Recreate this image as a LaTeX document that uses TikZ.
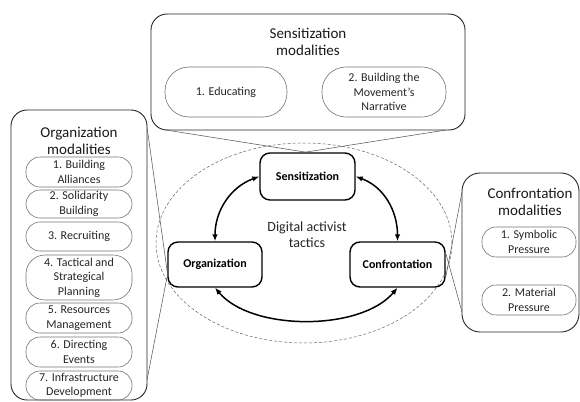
\documentclass[tikz,border=0pt]{standalone}
\usepackage{fontspec}
\setmainfont{Carlito}
\usetikzlibrary{arrows.meta,shapes.geometric}
\tikzset{
  bigbox/.style={draw=black!85, line width=0.9pt, rounded corners=16pt, inner sep=0pt},
  pill/.style={draw=black!55, line width=0.6pt, rounded corners=14pt, inner sep=0pt, align=center, text=black!85, font=\fontsize{12}{14.5}\selectfont},
  bigpill/.style={pill, rounded corners=24pt},
  tactic/.style={draw=black, line width=1.4pt, rounded corners=10pt, inner sep=0pt, font=\bfseries\fontsize{12}{14}\selectfont},
  ttl/.style={align=center, inner sep=0pt, text=black!90, font=\fontsize{15}{17.5}\selectfont},
  link/.style={draw=black!65, line width=0.55pt},
  bi/.style={line width=1.5pt, {Latex[length=7pt,width=5.5pt]}-{Latex[length=7pt,width=5.5pt]}},
}
\begin{document}
\begin{tikzpicture}[x=1pt,y=1pt]
\useasboundingbox (0,0) rectangle (580,-401);
% scope ellipse
\node[draw=black!60, dash pattern=on 3pt off 2pt, line width=0.5pt, ellipse, minimum width=296pt, minimum height=200pt, inner sep=0pt] (scope) at (304,-243) {};
% big boxes
\node[bigbox, minimum width=314pt, minimum height=116pt] (topbox) at (308,-72) {};
\node[bigbox, minimum width=136pt, minimum height=290pt] (leftbox) at (79,-255) {};
\node[bigbox, minimum width=117pt, minimum height=159pt, rounded corners=18pt] (rightbox) at (520.5,-252.5) {};
% titles
\node[ttl] (toptitle) at (308,-42) {Sensitization\\modalities};
\node[ttl] (lefttitle) at (79,-141) {Organization\\modalities};
\node[ttl] (righttitle) at (530,-202) {Confrontation\\modalities};
% top pills
\node[bigpill, minimum width=122pt, minimum height=50pt] (s1) at (226,-92) {1. Educating};
\node[bigpill, minimum width=124pt, minimum height=50pt] (s2) at (384,-92) {2. Building the\\Movement's\\Narrative};
% left pills
\node[pill, minimum width=106pt, minimum height=30pt] (o1) at (79,-172) {1. Building\\Alliances};
\node[pill, minimum width=106pt, minimum height=28pt] (o2) at (79,-204) {2. Solidarity\\Building};
\node[pill, minimum width=106pt, minimum height=29pt] (o3) at (79,-236.5) {3. Recruiting};
\node[pill, minimum width=106pt, minimum height=45pt, rounded corners=19pt] (o4) at (79,-277.5) {4. Tactical and\\Strategical\\Planning};
\node[pill, minimum width=106pt, minimum height=30pt] (o5) at (79,-318) {5. Resources\\Management};
\node[pill, minimum width=106pt, minimum height=30pt] (o6) at (79,-352) {6. Directing\\Events};
\node[pill, minimum width=106pt, minimum height=29pt] (o7) at (79,-385.5) {7. Infrastructure\\Development};
% right pills
\node[pill, minimum width=94pt, minimum height=30pt] (c1) at (529,-242) {1. Symbolic\\Pressure};
\node[pill, minimum width=94pt, minimum height=30pt] (c2) at (529,-300) {2. Material\\Pressure};
% tactics
\node[tactic, minimum width=95pt, minimum height=47pt] (sens) at (307.5,-176.5) {Sensitization};
\node[tactic, minimum width=94pt, minimum height=45pt] (org) at (215,-264.5) {Organization};
\node[tactic, minimum width=95pt, minimum height=45pt] (conf) at (397.5,-264.5) {Confrontation};
\node[align=center, inner sep=0pt, text=black!85, font=\fontsize{14}{16}\selectfont] (center) at (307,-235) {Digital activist\\tactics};
% connector coordinates
\coordinate (tA) at (166,-130);
\coordinate (tB) at (446,-130);
\coordinate (tA2) at (311,-153);
\coordinate (tB2) at (300,-153);
\coordinate (lA) at (147,-127);
\coordinate (lB) at (147,-380);
\coordinate (lA2) at (168,-277);
\coordinate (lB2) at (168,-272);
\coordinate (rA) at (462,-192);
\coordinate (rB) at (462,-312);
\coordinate (rA2) at (446,-276);
\coordinate (rB2) at (446,-254);
\draw[link] (tA) -- (tA2);
\draw[link] (tB) -- (tB2);
\draw[link] (lA) -- (lA2);
\draw[link] (lB) -- (lB2);
\draw[link] (rA) -- (rA2);
\draw[link] (rB) -- (rB2);
% arrows
\draw[bi] (sens.west) to[out=200,in=90] (org.north);
\draw[bi] (sens.east) to[out=-20,in=90] (conf.north);
\draw[bi] (org.south) to[out=-50,in=-130,looseness=0.8] (conf.south);
\end{tikzpicture}
\end{document}
